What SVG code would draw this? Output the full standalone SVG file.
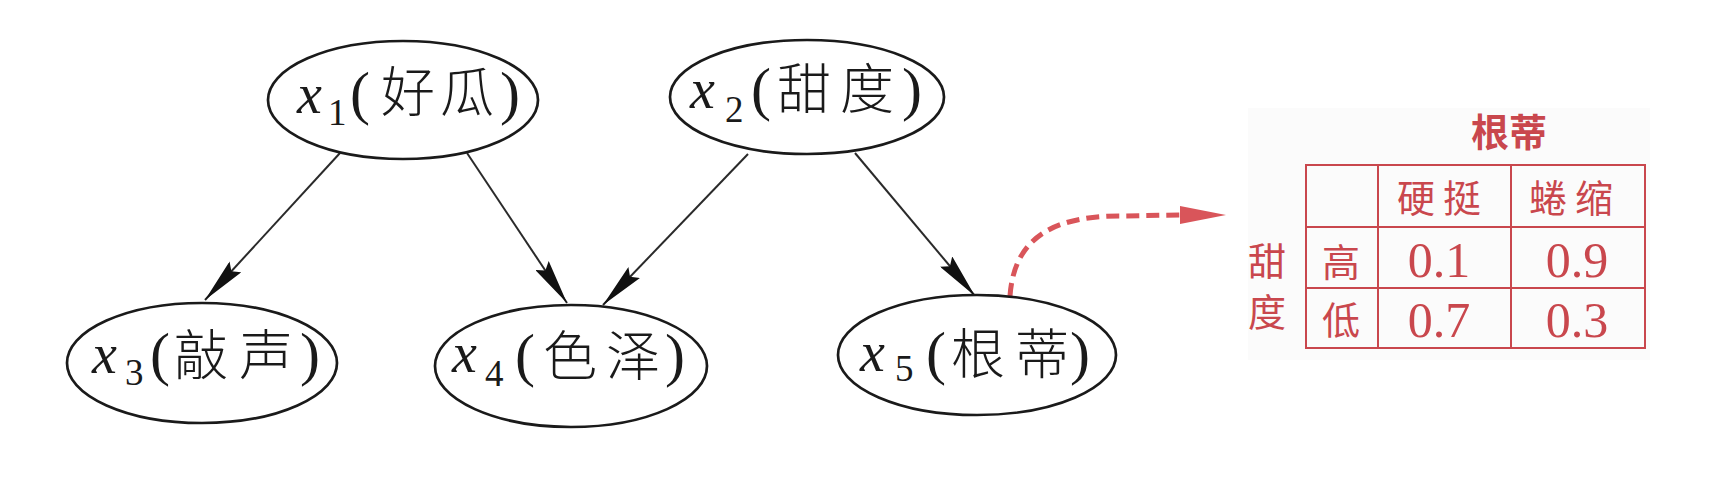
<svg xmlns="http://www.w3.org/2000/svg" width="1735" height="481" viewBox="0 0 1735 481">
<style>
.node ellipse{fill:#fff;stroke:#1a1a1a;stroke-width:2.7}
.var{font-family:"Liberation Serif",serif;font-style:italic;font-size:56px;fill:#1a1a1a}
.sub{font-family:"Liberation Serif",serif;font-size:37px;fill:#1a1a1a}
.par{font-family:"Liberation Serif",serif;font-size:60px;fill:#1a1a1a}
.cjk{font-family:"Noto Sans CJK SC",sans-serif;font-weight:300;font-size:54px;fill:#1a1a1a}
.edge{stroke:#2a2a2a;stroke-width:2;fill:none}
.tbl line,.tbl rect.grid{stroke:#c9474d;stroke-width:2;fill:none}
.tc{font-family:"Noto Sans CJK SC",sans-serif;font-size:38px;fill:#c9474d}
.tn{font-family:"Liberation Serif",serif;font-size:50px;fill:#c9474d;text-anchor:middle}
</style>
<defs>
<marker id="ah" markerWidth="46" markerHeight="16" refX="45" refY="8" orient="auto" markerUnits="userSpaceOnUse">
<path d="M0,0 L45,8 L0,16 L6,8 Z" fill="#111"/>
</marker>
</defs>
<rect width="1735" height="481" fill="#fff"/>
<g id="connectors">
<line class="edge" x1="340" y1="153" x2="205" y2="300" marker-end="url(#ah)"/>
<line class="edge" x1="467" y1="153" x2="567" y2="303" marker-end="url(#ah)"/>
<line class="edge" x1="748" y1="154" x2="603" y2="305" marker-end="url(#ah)"/>
<line class="edge" x1="855" y1="153" x2="975" y2="296" marker-end="url(#ah)"/>
<path d="M1010,296 C1014,240 1050,216 1120,216 L1182,215" fill="none" stroke="#d9555a" stroke-width="5" stroke-dasharray="13 7"/>
<polygon points="1180,206 1226,215 1180,224" fill="#d9555a"/>
</g>
<g id="node-x1" class="node">
<ellipse cx="403" cy="100" rx="135" ry="59"/>
<text><tspan class="var" x="297" y="113">x</tspan><tspan class="sub" x="328" y="125">1</tspan><tspan class="par" x="350" y="113">(</tspan><tspan class="cjk" x="381" y="112">好</tspan><tspan class="cjk" x="440" y="112">瓜</tspan><tspan class="par" x="500" y="113">)</tspan></text>
</g>
<g id="node-x2" class="node">
<ellipse cx="807" cy="97" rx="137" ry="57"/>
<text><tspan class="var" x="690" y="108">x</tspan><tspan class="sub" x="725" y="122">2</tspan><tspan class="par" x="751" y="109">(</tspan><tspan class="cjk" x="777" y="109">甜</tspan><tspan class="cjk" x="840" y="109">度</tspan><tspan class="par" x="902" y="109">)</tspan></text>
</g>
<g id="node-x3" class="node">
<ellipse cx="202" cy="363" rx="135" ry="60"/>
<text><tspan class="var" x="92" y="373">x</tspan><tspan class="sub" x="125" y="385">3</tspan><tspan class="par" x="150" y="374">(</tspan><tspan class="cjk" x="174" y="375">敲</tspan><tspan class="cjk" x="239" y="375">声</tspan><tspan class="par" x="300" y="374">)</tspan></text>
</g>
<g id="node-x4" class="node">
<ellipse cx="571" cy="366" rx="136" ry="61"/>
<text><tspan class="var" x="452" y="372">x</tspan><tspan class="sub" x="485" y="386">4</tspan><tspan class="par" x="515" y="375">(</tspan><tspan class="cjk" x="543" y="376">色</tspan><tspan class="cjk" x="606" y="376">泽</tspan><tspan class="par" x="665" y="375">)</tspan></text>
</g>
<g id="node-x5" class="node">
<ellipse cx="977" cy="355" rx="139" ry="60"/>
<text><tspan class="var" x="860" y="371">x</tspan><tspan class="sub" x="895" y="381">5</tspan><tspan class="par" x="926" y="373">(</tspan><tspan class="cjk" x="951" y="374">根</tspan><tspan class="cjk" x="1015" y="374">蒂</tspan><tspan class="par" x="1070" y="373">)</tspan></text>
</g>
<g id="cpt-table" class="tbl">
<rect x="1248" y="108" width="402" height="252" fill="#fbfbfb"/>
<text class="tc" x="1509" y="146" text-anchor="middle" font-weight="bold" font-size="42">根蒂</text>
<rect class="grid" x="1306" y="165" width="339" height="183"/>
<line x1="1378" y1="165" x2="1378" y2="348"/>
<line x1="1511" y1="165" x2="1511" y2="348"/>
<line x1="1306" y1="227" x2="1645" y2="227"/>
<line x1="1306" y1="288" x2="1645" y2="288"/>
<text class="tc" x="1443" y="212" text-anchor="middle" letter-spacing="8">硬挺</text>
<text class="tc" x="1575" y="212" text-anchor="middle" letter-spacing="8">蜷缩</text>
<text class="tc" x="1341" y="276" text-anchor="middle">高</text>
<text class="tc" x="1341" y="334" text-anchor="middle">低</text>
<text class="tc" x="1267" y="275" text-anchor="middle">甜</text>
<text class="tc" x="1267" y="326" text-anchor="middle">度</text>
<text class="tn" x="1439" y="277">0.1</text>
<text class="tn" x="1577" y="277">0.9</text>
<text class="tn" x="1439" y="337">0.7</text>
<text class="tn" x="1577" y="337">0.3</text>
</g>
</svg>
